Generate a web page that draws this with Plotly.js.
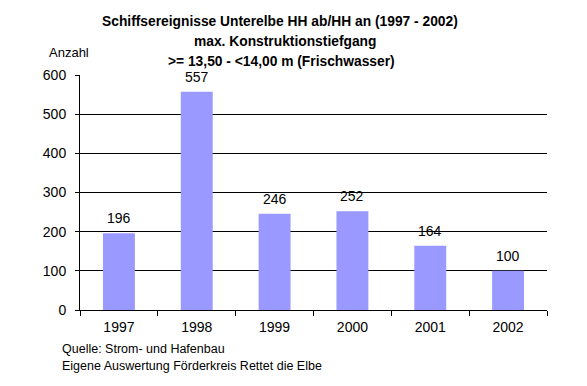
<!DOCTYPE html>
<html>
<head>
<meta charset="utf-8">
<script src="https://cdn.plot.ly/plotly-3.0.1.min.js"></script>
<style>html,body{margin:0;padding:0;background:#fff;}#chart{width:587px;height:386px;}</style>
</head>
<body>
<div id="chart"></div>
<script>
const years = ["1997", "1998", "1999", "2000", "2001", "2002"];
const counts = [196, 557, 246, 252, 164, 100];
const yTicks = [0, 100, 200, 300, 400, 500, 600];
const titleLines = [
  "Schiffsereignisse Unterelbe HH ab/HH an (1997 - 2002)",
  "max. Konstruktionstiefgang",
  ">= 13,50 - <14,00 m (Frischwasser)"
];
const sourceLines = [
  "Quelle: Strom- und Hafenbau",
  "Eigene Auswertung Förderkreis Rettet die Elbe"
];
const yAxisLabel = "Anzahl";

const font = "Liberation Sans, Arial, sans-serif";

const trace = {
  type: "bar",
  x: years,
  y: counts,
  marker: {color: "#9999FF", line: {width: 0}},
  hoverinfo: "none"
};

const esc = s => s.replace(/&/g, "&amp;").replace(/</g, "&lt;").replace(/>/g, "&gt;");

const annotations = [];
// data labels (category index position on the category axis)
years.forEach((yr, i) => {
  annotations.push({
    text: String(counts[i]), x: i, y: counts[i], xref: "x", yref: "y",
    xanchor: "center", yanchor: "middle", yshift: 15, showarrow: false,
    font: {family: font, size: 14, color: "#000"}
  });
});
// title lines
const titleY = [1.228, 1.143, 1.058];
const titleX = [0.428, 0.438, 0.432];
titleLines.forEach((t, i) => {
  annotations.push({
    text: "<b>" + esc(t) + "</b>", xref: "paper", yref: "paper", x: titleX[i], y: titleY[i],
    xanchor: "center", yanchor: "middle", showarrow: false,
    font: {family: font, size: 13.8, color: "#000"}
  });
});
// y axis label
annotations.push({
  text: yAxisLabel, xref: "paper", yref: "paper", x: -0.0707, y: 1.094,
  xanchor: "left", yanchor: "middle", showarrow: false,
  font: {family: font, size: 13, color: "#000"}
});
// source lines
const srcY = [-0.166, -0.238];
sourceLines.forEach((t, i) => {
  annotations.push({
    text: t, xref: "paper", yref: "paper", x: -0.0428, y: srcY[i],
    xanchor: "left", yanchor: "middle", showarrow: false,
    font: {family: font, size: 12.5, color: "#000"}
  });
});

const layout = {
  width: 587,
  height: 386,
  margin: {l: 80, r: 40, t: 75, b: 76},
  paper_bgcolor: "#fff",
  plot_bgcolor: "#fff",
  showlegend: false,
  bargap: 0.59,
  font: {family: font, size: 14, color: "#000"},
  xaxis: {
    type: "category",
    categoryarray: years,
    range: [-0.5, years.length - 0.5],
    tickson: "boundaries",
    ticks: "outside",
    ticklen: 5,
    tickcolor: "#000",
    ticklabelstandoff: 4,
    showline: true,
    linecolor: "#000",
    linewidth: 1,
    showgrid: false,
    tickfont: {family: font, size: 14, color: "#000"},
    fixedrange: true
  },
  yaxis: {
    range: [0, 600],
    tickvals: yTicks,
    ticks: "outside",
    ticklen: 4,
    tickcolor: "#000",
    ticklabelstandoff: 6,
    showline: true,
    linecolor: "#000",
    linewidth: 1,
    showgrid: true,
    gridcolor: "#000",
    gridwidth: 1,
    zeroline: false,
    tickfont: {family: font, size: 14, color: "#000"},
    fixedrange: true
  },
  annotations: annotations
};

Plotly.newPlot("chart", [trace], layout, {staticPlot: true, displayModeBar: false});
</script>
</body>
</html>
